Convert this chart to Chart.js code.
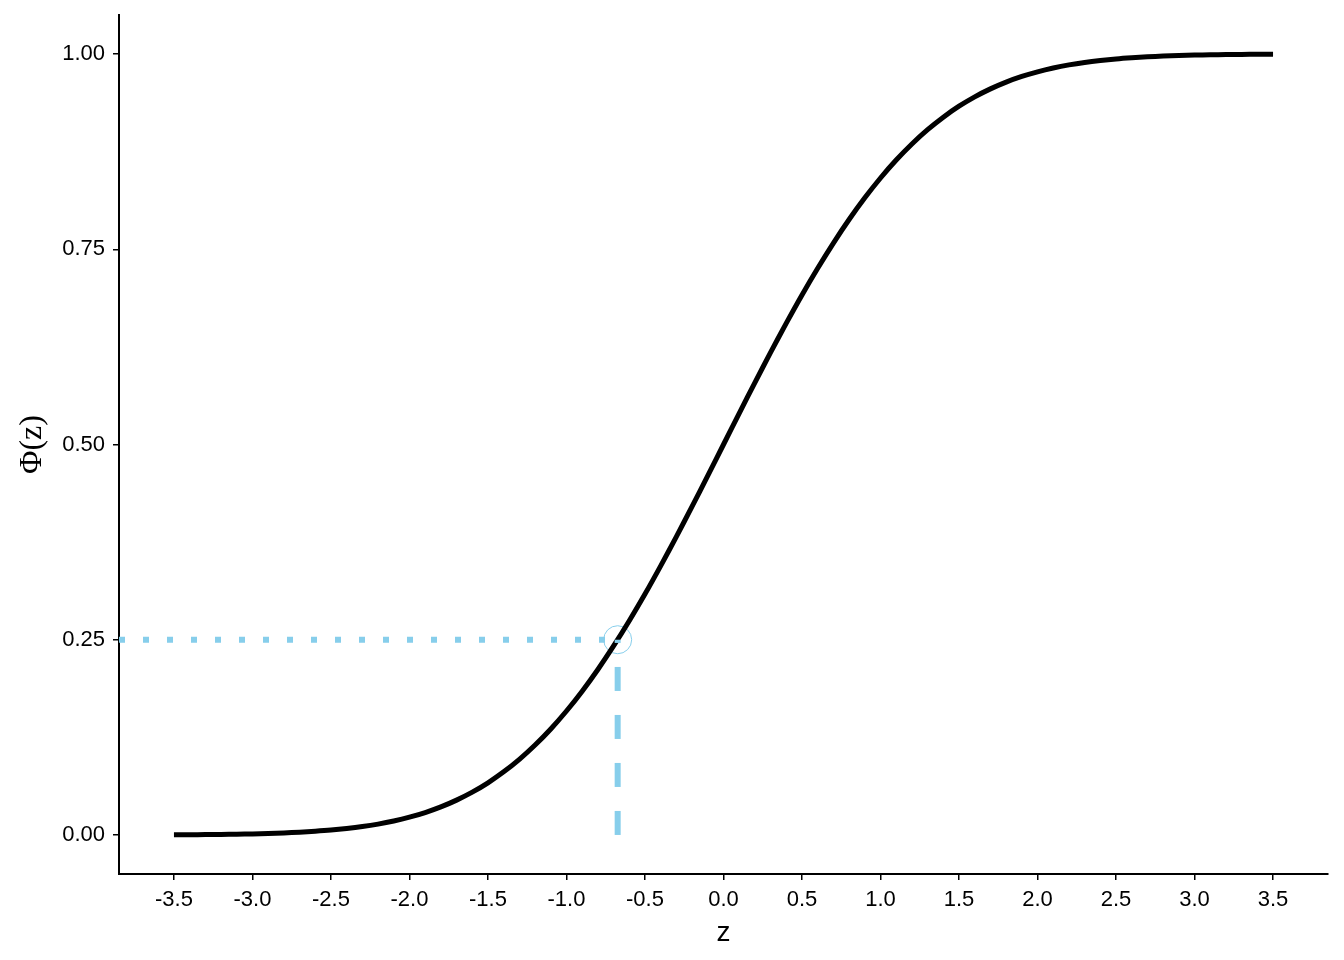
<!DOCTYPE html>
<html>
<head>
<meta charset="utf-8">
<script src="https://cdn.jsdelivr.net/npm/chart.js@4/dist/chart.umd.min.js"></script>
<style>
  html, body { margin: 0; padding: 0; background: #fff; }
  #wrap { width: 1344px; height: 960px; }
</style>
</head>
<body>
<div id="wrap"><canvas id="grafico" width="1344" height="960"></canvas></div>
<script>
// valores
const zValores = [
  -3.5, -3.4, -3.3, -3.2, -3.1, -3.0, -2.9, -2.8, -2.7, -2.6,
  -2.5, -2.4, -2.3, -2.2, -2.1, -2.0, -1.9, -1.8, -1.7, -1.6,
  -1.5, -1.4, -1.3, -1.2, -1.1, -1.0, -0.9, -0.8, -0.7, -0.6,
  -0.5, -0.4, -0.3, -0.2, -0.1, 0.0, 0.1, 0.2, 0.3, 0.4,
  0.5, 0.6, 0.7, 0.8, 0.9, 1.0, 1.1, 1.2, 1.3, 1.4,
  1.5, 1.6, 1.7, 1.8, 1.9, 2.0, 2.1, 2.2, 2.3, 2.4,
  2.5, 2.6, 2.7, 2.8, 2.9, 3.0, 3.1, 3.2, 3.3, 3.4, 3.5
];
const phiValores = [
  0.0002, 0.0003, 0.0005, 0.0007, 0.0010, 0.0013, 0.0019, 0.0026, 0.0035, 0.0047,
  0.0062, 0.0082, 0.0107, 0.0139, 0.0179, 0.0228, 0.0287, 0.0359, 0.0446, 0.0548,
  0.0668, 0.0808, 0.0968, 0.1151, 0.1357, 0.1587, 0.1841, 0.2119, 0.2420, 0.2743,
  0.3085, 0.3446, 0.3821, 0.4207, 0.4602, 0.5000, 0.5398, 0.5793, 0.6179, 0.6554,
  0.6915, 0.7257, 0.7580, 0.7881, 0.8159, 0.8413, 0.8643, 0.8849, 0.9032, 0.9192,
  0.9332, 0.9452, 0.9554, 0.9641, 0.9713, 0.9772, 0.9821, 0.9861, 0.9893, 0.9918,
  0.9938, 0.9953, 0.9965, 0.9974, 0.9981, 0.9987, 0.9990, 0.9993, 0.9995, 0.9997, 0.9998
];

// punto marcado (cuantil 0.25)
const zMarca = -0.674;
const phiMarca = 0.25;

// etiquetas de los ejes
const ticksX = [-3.5, -3.0, -2.5, -2.0, -1.5, -1.0, -0.5, 0.0, 0.5, 1.0, 1.5, 2.0, 2.5, 3.0, 3.5];
const ticksY = [0, 0.25, 0.5, 0.75, 1.0];
const limitesX = [-3.85, 3.85];
const limitesY = [-0.05, 1.05];

const colorMarca = "#87CEEB";

const curva = zValores.map((z, i) => ({ x: z, y: phiValores[i] }));

const datasets = [
  {
    label: "horizontal",
    data: [{ x: limitesX[0], y: phiMarca }, { x: zMarca, y: phiMarca }],
    showLine: true,
    borderColor: colorMarca,
    borderWidth: 6,
    borderDash: [6, 18],
    borderCapStyle: "butt",
    pointRadius: 0
  },
  {
    label: "vertical",
    data: [{ x: zMarca, y: 0 }, { x: zMarca, y: phiMarca }],
    showLine: true,
    borderColor: colorMarca,
    borderWidth: 6,
    borderDash: [24, 24],
    borderCapStyle: "butt",
    pointRadius: 0
  },
  {
    label: "Phi",
    data: curva,
    showLine: true,
    borderColor: "#000",
    borderWidth: 5,
    borderCapStyle: "butt",
    tension: 0.3,
    pointRadius: 0
  },
  {
    label: "marca",
    data: [{ x: zMarca, y: phiMarca }],
    showLine: false,
    pointRadius: 14,
    pointBorderWidth: 1,
    pointBorderColor: colorMarca,
    pointBackgroundColor: "rgba(0,0,0,0)"
  }
];

const fuente = { family: "Arial, 'Liberation Sans', sans-serif", size: 22 };

const config = {
  type: "scatter",
  data: { datasets },
  options: {
    responsive: false,
    animation: false,
    layout: { padding: { top: 14, right: 16, bottom: 0, left: 0 } },
    plugins: { legend: { display: false }, tooltip: { enabled: false } },
    scales: {
      x: {
        type: "linear",
        min: limitesX[0],
        max: limitesX[1],
        afterBuildTicks: (eje) => { eje.ticks = ticksX.map(v => ({ value: v })); },
        afterFit: (eje) => { eje.height = 86; eje.paddingLeft = 0; eje.paddingRight = 0; },
        ticks: {
          color: "#000",
          font: fuente,
          padding: 7,
          maxRotation: 0,
          callback: (v) => v.toFixed(1)
        },
        grid: {
          drawOnChartArea: false,
          drawTicks: true,
          tickLength: 6,
          color: "#000",
          lineWidth: 1.5
        },
        border: { display: true, color: "#000", width: 2 },
        title: {
          display: true,
          text: "z",
          color: "#000",
          font: { family: "Arial, 'Liberation Sans', sans-serif", size: 28 },
          padding: { top: 0, bottom: 10 }
        }
      },
      y: {
        type: "linear",
        min: limitesY[0],
        max: limitesY[1],
        afterBuildTicks: (eje) => { eje.ticks = ticksY.map(v => ({ value: v })); },
        afterFit: (eje) => { eje.width = 119; eje.paddingTop = 0; eje.paddingBottom = 0; },
        ticks: {
          color: "#000",
          font: fuente,
          padding: 8,
          callback: (v) => v.toFixed(2)
        },
        grid: {
          drawOnChartArea: false,
          drawTicks: true,
          tickLength: 6,
          color: "#000",
          lineWidth: 1.5
        },
        border: { display: true, color: "#000", width: 2 },
        title: {
          display: true,
          text: "Φ(z)",
          color: "#000",
          font: { family: "'Liberation Serif', 'Times New Roman', serif", size: 32 },
          padding: { top: 13, bottom: 0 }
        }
      }
    }
  }
};

const grafico = new Chart(document.getElementById("grafico"), config);
</script>
</body>
</html>
